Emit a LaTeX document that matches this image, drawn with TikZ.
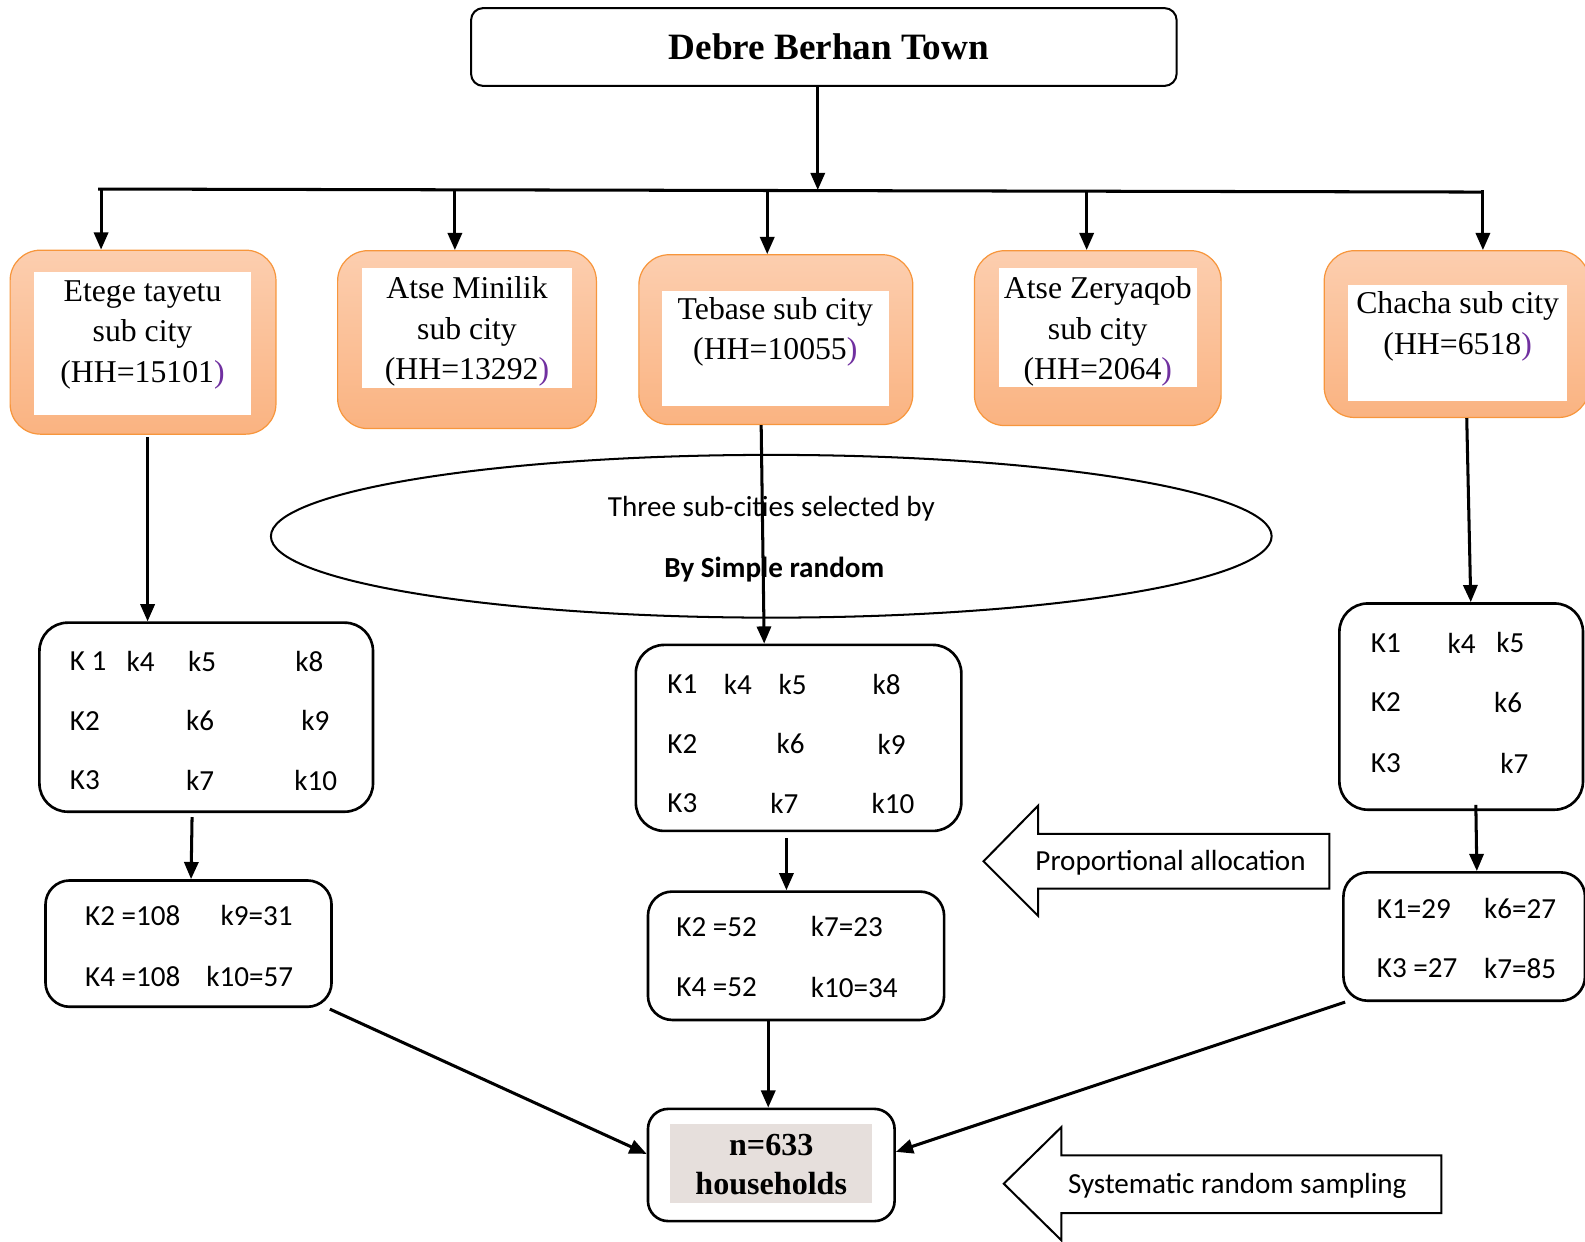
\documentclass[tikz,border=0pt]{standalone}
\usepackage{fontspec}
\setmainfont{Liberation Serif}
\newfontfamily\calibri{Carlito}
\usepackage{tikz}
\usetikzlibrary{positioning, arrows.meta, shapes.geometric, calc}

\definecolor{peachtop}{RGB}{252,206,175}
\definecolor{peachbot}{RGB}{250,179,129}
\definecolor{peachline}{RGB}{247,150,60}
\definecolor{hhpurple}{RGB}{112,48,160}
\definecolor{hhgrey}{RGB}{230,223,220}

\begin{document}
\begin{tikzpicture}[x=1pt, y=-1pt,
    arr/.style={line width=3pt, -{Triangle[length=17pt,width=14pt]}},
    subbox/.style={draw=peachline, line width=1.2pt, rounded corners=30pt, top color=peachtop, bottom color=peachbot},
    whitebox/.style={fill=white, inner sep=0pt},
    subtxt/.style={font=\fontsize{31.4}{40}\selectfont, align=center, inner sep=0pt},
    kbox/.style={draw, line width=2.6pt, rounded corners=28pt},
    ktxt/.style={font=\calibri\fontsize{28.8}{34}\selectfont, inner sep=0pt, anchor=west},
    blockarr/.style={draw, line width=2pt, fill=white, line join=miter}]
    \useasboundingbox (0,0) rectangle (1568,1228);

    % town and sub cities
    \node[draw, line width=2pt, rounded corners=12pt, minimum width=698pt, minimum height=77pt,
        font=\bfseries\fontsize{36.8}{44}\selectfont] (town) at (815,46.5) {\hspace{10pt}Debre Berhan Town};

    \node[subbox, minimum width=263pt, minimum height=182pt] (etege) at (141.5,338.5) {};
    \node[whitebox, minimum width=214pt, minimum height=142pt] (etege-w) at (141,340) {};
    \node[subtxt] (etege-t) at (141,331) {Etege tayetu\\sub city\\(HH=15101{\color{hhpurple})}};

    \node[subbox, minimum width=256pt, minimum height=176pt] (minilik) at (462,336) {};
    \node[whitebox, minimum width=208pt, minimum height=119pt] (minilik-w) at (462,324.5) {};
    \node[subtxt] (minilik-t) at (462,328) {Atse Minilik\\sub city\\(HH=13292{\color{hhpurple})}};

    \node[subbox, minimum width=271pt, minimum height=168pt] (tebase) at (767.5,336) {};
    \node[whitebox, minimum width=224pt, minimum height=114pt] (tebase-w) at (767,345) {};
    \node[subtxt] (tebase-t) at (767,328.5) {Tebase sub city\\(HH=10055{\color{hhpurple})}};

    \node[subbox, minimum width=244pt, minimum height=173pt] (zery) at (1086,334.5) {};
    \node[whitebox, minimum width=196pt, minimum height=118pt] (zery-w) at (1086,324) {};
    \node[subtxt] (zery-t) at (1086,328) {Atse Zeryaqob\\sub city\\(HH=2064{\color{hhpurple})}};

    \node[subbox, minimum width=262pt, minimum height=165pt] (chacha) at (1441,330.5) {};
    \node[whitebox, minimum width=216pt, minimum height=115pt] (chacha-w) at (1442,339.5) {};
    \node[subtxt] (chacha-t) at (1442,323) {Chacha sub city\\(HH=6518{\color{hhpurple})}};

    \coordinate (bl) at (97,187);
    \coordinate (br) at (1468,190);
    \coordinate (bm) at (809,188);
    \draw[line width=3pt] (bl) -- (br);
    \draw[arr] (town.south -| bm) -- (bm);
    \foreach \x/\n in {100/etege, 450/minilik, 759/tebase, 1075/zery, 1467/chacha} {
        \coordinate (d) at (\x,188);
        \draw[arr] (d) -- (d |- \n.north);
    }

    % selection
    \node[ellipse, draw, line width=2pt, minimum width=990pt, minimum height=161pt] (sel) at (763,530.5) {};
    \node[font=\calibri\fontsize{28.8}{34}\selectfont] (sel-a) at (763,503) {Three sub-cities selected by};
    \node[font=\calibri\bfseries\fontsize{28.8}{34}\selectfont] (sel-b) at (766,563) {By Simple random};

    % kebeles
    \node[kbox, minimum width=330pt, minimum height=187pt] (kb1) at (204,709.5) {};
    \node[kbox, minimum width=322pt, minimum height=184pt] (kb2) at (790,730) {};
    \node[kbox, minimum width=241pt, minimum height=204pt] (kb3) at (1445.5,699) {};
    \foreach \x/\y/\t [count=\i] in {69/654/K 1, 125/654/k4, 186/654/k5, 292/654/k8,
        69/713/K2, 184/713/k6, 298/713/k9, 69/772/K3, 184/772/k7, 291/772/k10,
        660/677/K1, 716/677/k4, 770/677/k5, 863/677/k8,
        660/736/K2, 768/736/k6, 868/736/k9, 660/795/K3, 762/795/k7, 862/795/k10,
        1356/636/K1, 1432/636/k4, 1480/636/k5, 1356/695/K2, 1478/695/k6,
        1356/755/K3, 1484/755/k7}
        \node[ktxt] (k\i) at (\x,\y) {\t};

    % allocated sizes
    \node[kbox, rounded corners=24pt, minimum width=283pt, minimum height=125pt] (cb1) at (186.5,933.5) {};
    \node[kbox, rounded corners=24pt, minimum width=293pt, minimum height=127pt] (cb2) at (787.5,945.5) {};
    \node[kbox, rounded corners=24pt, minimum width=239pt, minimum height=127pt] (cb3) at (1448.5,926.5) {};
    \foreach \x/\y/\t [count=\i] in {84/906/K2 =108, 218/906/k9=31, 84/966/K4 =108, 204/966/k10=57,
        669/917/K2 =52, 802/917/k7=23, 669/977/K4 =52, 802/977/k10=34,
        1362/899/K1=29, 1468/899/k6=27, 1362/958/K3 =27, 1468/958/k7=85}
        \node[ktxt] (c\i) at (\x,\y) {\t};

    % sample
    \node[kbox, rounded corners=20pt, minimum width=244pt, minimum height=111pt] (hh) at (763,1152.5) {};
    \node[fill=hhgrey, minimum width=200pt, minimum height=78pt, inner sep=0pt] (hh-g) at (763,1151) {};
    \node[font=\bfseries\fontsize{31.75}{38}\selectfont, align=center, inner sep=0pt] (hh-t) at (763,1152) {n=633\\households};

    \draw[arr] ($(etege.south)+(4.5,2)$) -- ($(kb1.north)+(-58,0)$);
    \draw[arr] ($(tebase.south)+(-14.5,0)$) -- ($(kb2.north)+(-34,0)$);
    \draw[arr] ($(chacha.south)+(10,0)$) -- ($(kb3.north)+(9.5,0)$);
    \draw[arr] ($(kb1.south)+(-14,4)$) -- ($(cb1.north)+(2.5,0)$);
    \draw[arr] ($(kb2.south)+(-12,6)$) -- ($(cb2.north)+(-9.5,0)$);
    \draw[arr] ($(kb3.south)+(14.5,-6)$) -- ($(cb3.north)+(12.5,0)$);
    \draw[arr] ($(cb1.south east)+(-3,1)$) -- ($(hh.west)+(0,-11)$);
    \draw[arr] ($(cb2.south)+(-27.5,0)$) -- ($(hh.north)+(-3,0)$);
    \draw[arr] ($(cb3.south west)+(3,0)$) -- ($(hh.east)+(0,-13)$);

    % block arrows
    \draw[blockarr] (973,852) -- (1027,797) -- (1027,825) -- (1315,825) -- (1315,879) -- (1027,879) -- (1027,906) -- cycle;
    \node[font=\calibri\fontsize{28.8}{34}\selectfont] (prop) at (1158,853) {Proportional allocation};
    \draw[blockarr] (993,1171) -- (1050,1115) -- (1050,1143) -- (1426,1143) -- (1426,1200) -- (1050,1200) -- (1050,1227) -- cycle;
    \node[font=\calibri\fontsize{28.8}{34}\selectfont] (sys) at (1224,1173) {Systematic random sampling};
\end{tikzpicture}
\end{document}
